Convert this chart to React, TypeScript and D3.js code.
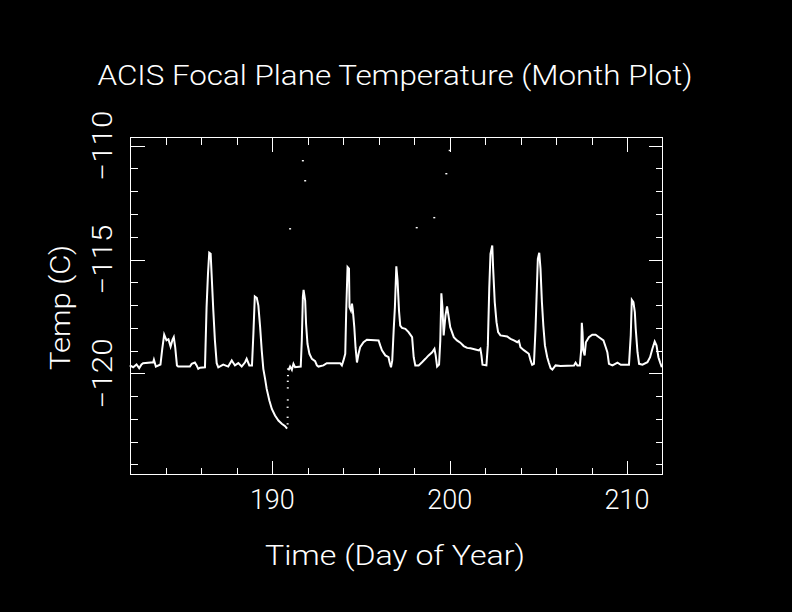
import React, { useEffect } from 'react';
import * as d3 from 'd3';

const W = 792;
const H = 612;

const xDomain = [182, 212];
const yDomain = [-124.44, -109.64];
const xMajorTicks = [190, 200, 210];
const yMajorTicks = [-120, -115, -110];
const xTickLabels = ['190', '200', '210'];
const yTickLabels = ['\u2212120', '\u2212115', '\u2212110'];

const titleText = 'ACIS Focal Plane Temperature (Month Plot)';
const xLabelText = 'Time (Day of Year)';
const yLabelText = 'Temp (C)';

// Segment before the data gap (cooling to the minimum near day 190.8)
const seg1Days = [181.96, 182.15, 182.34, 182.49, 182.62, 182.71, 183.28, 183.32, 183.43, 183.69, 183.79, 183.9, 184.03, 184.14, 184.26, 184.37, 184.44, 184.52, 184.62, 184.69, 185.35, 185.45, 185.63, 185.73, 185.82, 185.92, 186.2, 186.29, 186.37, 186.44, 186.52, 186.59, 186.67, 186.76, 186.86, 186.95, 187.23, 187.51, 187.71, 187.89, 188.08, 188.27, 188.46, 188.55, 188.7, 188.85, 188.93, 189.01, 189.12, 189.21, 189.31, 189.4, 189.49, 189.59, 189.68, 189.83, 189.97, 190.15, 190.34, 190.53, 190.72, 190.83];
const seg1Temps = [-119.65, -119.73, -119.61, -119.77, -119.61, -119.55, -119.51, -119.4, -119.7, -119.61, -118.92, -118.3, -118.55, -118.5, -118.82, -118.52, -118.41, -118.85, -119.65, -119.7, -119.7, -119.58, -119.52, -119.65, -119.8, -119.75, -119.73, -117.09, -115.62, -114.7, -114.75, -115.92, -117.24, -118.55, -119.55, -119.73, -119.61, -119.7, -119.43, -119.65, -119.55, -119.7, -119.51, -119.36, -119.65, -119.65, -118.26, -116.62, -116.68, -117.02, -117.97, -118.99, -119.8, -120.24, -120.68, -121.19, -121.56, -121.85, -122.07, -122.21, -122.32, -122.43];

// Segment after the gap
const seg2Days = [190.91, 191.0, 191.1, 191.19, 191.28, 191.6, 191.66, 191.72, 191.76, 191.85, 191.9, 191.98, 192.09, 192.23, 192.41, 192.51, 192.6, 192.88, 193.07, 193.82, 193.92, 194.01, 194.11, 194.16, 194.24, 194.32, 194.35, 194.43, 194.49, 194.54, 194.62, 194.69, 194.77, 194.86, 194.95, 195.14, 195.33, 195.99, 196.08, 196.18, 196.37, 196.55, 196.61, 196.69, 196.76, 196.84, 196.91, 196.99, 197.06, 197.14, 197.21, 197.31, 197.5, 197.68, 197.88, 197.97, 198.06, 198.25, 198.44, 198.63, 198.81, 199.01, 199.14, 199.21, 199.29, 199.4, 199.47, 199.53, 199.59, 199.66, 199.76, 199.85, 199.94, 200.03, 200.23, 200.41, 200.6, 200.79, 200.98, 201.17, 201.45, 201.64, 201.73, 201.79, 201.85, 202.07, 202.15, 202.23, 202.3, 202.4, 202.45, 202.54, 202.64, 202.73, 202.86, 203.24, 203.43, 203.62, 203.81, 203.9, 203.99, 204.18, 204.46, 204.56, 204.65, 204.75, 204.84, 204.92, 204.97, 205.05, 205.12, 205.2, 205.28, 205.37, 205.5, 205.59, 205.69, 205.79, 205.97, 206.25, 207.01, 207.1, 207.2, 207.34, 207.42, 207.45, 207.49, 207.53, 207.61, 207.68, 207.85, 208.04, 208.23, 208.42, 208.67, 208.8, 208.89, 208.98, 209.18, 209.46, 209.65, 210.11, 210.21, 210.27, 210.36, 210.44, 210.49, 210.59, 210.68, 210.87, 211.15, 211.3, 211.43, 211.56, 211.66, 211.77, 211.86, 211.96];
const seg2Temps = [-119.87, -119.7, -119.84, -119.58, -119.73, -119.7, -118.55, -116.65, -116.33, -116.8, -117.82, -118.7, -119.14, -119.36, -119.46, -119.65, -119.7, -119.65, -119.55, -119.55, -119.65, -119.43, -119.14, -117.38, -115.33, -115.4, -117.09, -117.24, -116.94, -117.24, -117.97, -118.85, -119.52, -119.14, -118.85, -118.63, -118.52, -118.55, -118.77, -118.99, -119.21, -119.29, -119.51, -119.73, -119.43, -118.11, -117.09, -115.3, -115.92, -117.24, -117.9, -118.0, -118.04, -118.19, -118.41, -119.29, -119.65, -119.65, -119.51, -119.36, -119.21, -119.07, -118.92, -119.21, -119.7, -119.61, -118.55, -116.48, -117.09, -118.33, -117.46, -117.06, -117.5, -117.97, -118.41, -118.55, -118.65, -118.8, -118.88, -118.9, -118.95, -118.99, -118.92, -119.21, -119.62, -119.65, -118.77, -116.28, -114.75, -114.38, -115.4, -116.87, -117.75, -118.19, -118.33, -118.38, -118.48, -118.55, -118.63, -118.57, -118.85, -118.98, -119.14, -119.43, -119.62, -119.58, -118.04, -116.14, -114.97, -114.7, -115.4, -116.87, -117.9, -118.77, -119.29, -119.53, -119.77, -119.83, -119.65, -119.68, -119.65, -119.53, -119.65, -119.65, -118.92, -117.78, -118.19, -118.99, -119.21, -118.63, -118.41, -118.3, -118.3, -118.41, -118.55, -118.85, -119.07, -119.58, -119.65, -119.53, -119.62, -119.62, -118.33, -116.77, -116.87, -117.31, -118.04, -119.07, -119.58, -119.62, -119.51, -119.29, -118.92, -118.6, -118.77, -119.29, -119.51, -119.73];

// Sparse readings during the fast recovery near day 190.87
const recoveryDays = [190.86, 190.86, 190.86, 190.87, 190.87, 190.87, 190.88, 190.88];
const recoveryTemps = [-122.21, -121.92, -121.48, -121.16, -120.63, -120.34, -120.09, -119.8];

// Isolated stray readings
const strayDays = [191.0, 191.72, 191.85, 198.14, 199.13, 199.81, 200.0];
const strayTemps = [-113.65, -110.66, -111.54, -113.6, -113.16, -111.23, -110.21];

const FONT = 'Roboto, Lato, "DejaVu Sans", sans-serif';

export default function App() {
  useEffect(() => {
    document.body.style.margin = '0';
    document.body.style.background = '#000';
  }, []);

  const left = 130.5, right = 662.5, top = 137.5, bottom = 474.5;
  const x = d3.scaleLinear().domain(xDomain).range([left, right]);
  const y = d3.scaleLinear().domain(yDomain).range([bottom, top]);

  const xMinor = d3.range(184, 212, 2);
  const yMinor = d3.range(-124, -109, 1);

  const line = d3.line<number>().curve(d3.curveLinear);
  const path1 = line(seg1Days.map((d, i) => [x(d), y(seg1Temps[i])]) as any);
  const path2 = line(seg2Days.map((d, i) => [x(d), y(seg2Temps[i])]) as any);

  const majorLen = 14, minorLen = 7;
  const stroke = '#fff';

  return (
    <svg width={W} height={H} style={{ position: 'absolute', left: 0, top: 0, background: '#000' }}>
      <rect x={0} y={0} width={W} height={H} fill="#000" />
      {/* frame */}
      <rect x={left} y={top} width={right - left} height={bottom - top} fill="none" stroke={stroke} strokeWidth={1} shapeRendering="crispEdges" />
      {/* x ticks bottom & top */}
      {xMinor.map(v => {
        const len = xMajorTicks.includes(v) ? majorLen : minorLen;
        const px = Math.round(x(v)) + 0.5;
        return (
          <g key={'xt' + v} shapeRendering="crispEdges">
            <line x1={px} x2={px} y1={bottom} y2={bottom - len} stroke={stroke} />
            <line x1={px} x2={px} y1={top} y2={top + len} stroke={stroke} />
          </g>
        );
      })}
      {/* y ticks left & right */}
      {yMinor.map(v => {
        const len = yMajorTicks.includes(v) ? majorLen : minorLen;
        const py = Math.round(y(v)) + 0.5;
        return (
          <g key={'yt' + v} shapeRendering="crispEdges">
            <line x1={left} x2={left + len} y1={py} y2={py} stroke={stroke} />
            <line x1={right} x2={right - len} y1={py} y2={py} stroke={stroke} />
          </g>
        );
      })}
      {/* data */}
      <path d={path1 || ''} fill="none" stroke={stroke} strokeWidth={2} />
      <path d={path2 || ''} fill="none" stroke={stroke} strokeWidth={2} />
      {recoveryDays.map((d, i) => (
        <rect key={'r' + i} x={x(d) - 1} y={y(recoveryTemps[i]) - 0.5} width={2} height={1.3} fill={stroke} />
      ))}
      {strayDays.map((d, i) => (
        <rect key={'s' + i} x={x(d) - 1} y={y(strayTemps[i]) - 0.7} width={2} height={1.4} fill={stroke} />
      ))}
      {/* x tick labels */}
      {xMajorTicks.map((v, i) => (
        <text key={'xl' + v} x={x(v)} y={509} fill={stroke} fontFamily={FONT} fontWeight={300} fontSize={27} textAnchor="middle">{xTickLabels[i]}</text>
      ))}
      {/* y tick labels */}
      {yMajorTicks.map((v, i) => (
        <text key={'yl' + v} transform={`translate(112, ${y(v)}) rotate(-90)`} fill={stroke} fontFamily={FONT} fontWeight={300} fontSize={27} textAnchor="middle" textLength={70} lengthAdjust="spacingAndGlyphs">{yTickLabels[i]}</text>
      ))}
      {/* title */}
      <text x={395} y={85} fill={stroke} fontFamily={FONT} fontWeight={300} fontSize={27} textAnchor="middle" textLength={595} lengthAdjust="spacingAndGlyphs">{titleText}</text>
      {/* axis labels */}
      <text x={395} y={565} fill={stroke} fontFamily={FONT} fontWeight={300} fontSize={27} textAnchor="middle" textLength={260} lengthAdjust="spacingAndGlyphs">{xLabelText}</text>
      <text transform={`translate(70, 307.5) rotate(-90)`} fill={stroke} fontFamily={FONT} fontWeight={300} fontSize={27} textAnchor="middle" textLength={125} lengthAdjust="spacingAndGlyphs">{yLabelText}</text>
    </svg>
  );
}
